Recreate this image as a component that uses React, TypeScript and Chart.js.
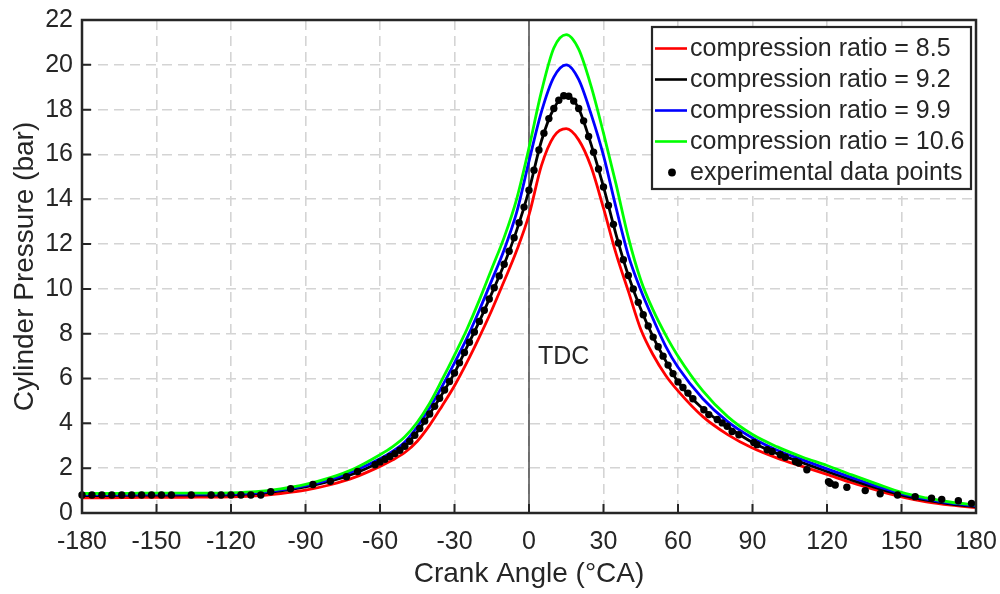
import { useEffect, useRef } from "react";
import { Chart, registerables } from "chart.js";

Chart.register(...registerables);

const FONT = '"Liberation Sans", Arial, Helvetica, sans-serif';
const TEXT = "#262626";

// crank angle grid for simulated curves
const angles = [
  -180, -170, -160, -150, -140, -130, -120, -110, -100, -90, -80, -70, -60, -55, -50,
  -45, -40, -35, -30, -25, -20, -15, -10, -5, 0, 5, 10, 15, 20, 25, 30, 35, 40, 45, 50, 55, 60,
  70, 80, 90, 100, 110, 120, 130, 140, 150, 160, 170, 180,
];

const cr85 = [
  0.68, 0.68, 0.69, 0.7, 0.7, 0.71, 0.72, 0.76, 0.87, 1.02, 1.26, 1.6, 2.08, 2.36, 2.7,
  3.2, 3.92, 4.78, 5.68, 6.72, 7.85, 9.05, 10.35, 11.7, 13.3, 15.5, 16.8, 17.15, 16.65, 15.45, 13.6, 11.6, 9.9, 8.2, 7.05, 6.15, 5.45,
  4.3, 3.5, 2.9, 2.45, 2.08, 1.72, 1.35, 1.02, 0.72, 0.5, 0.35, 0.24,
];

const cr92 = [
  0.78, 0.78, 0.79, 0.8, 0.8, 0.8, 0.81, 0.86, 0.99, 1.17, 1.42, 1.78, 2.28, 2.58, 2.98,
  3.62, 4.42, 5.3, 6.25, 7.4, 8.55, 9.8, 11.1, 12.6, 14.4, 16.6, 18.05, 18.65, 18.05, 16.45, 14.55, 12.45, 10.6, 9.1, 7.85, 6.8, 5.85,
  4.65, 3.85, 3.15, 2.65, 2.25, 1.85, 1.47, 1.12, 0.8, 0.57, 0.4, 0.28,
];

const cr99 = [
  0.82, 0.82, 0.83, 0.84, 0.84, 0.84, 0.85, 0.9, 1.03, 1.22, 1.5, 1.9, 2.42, 2.75, 3.17,
  3.85, 4.68, 5.65, 6.7, 7.8, 9.05, 10.38, 11.75, 13.4, 15.7, 17.9, 19.45, 20.0, 19.35, 17.8, 15.95, 13.65, 11.5, 9.95, 8.65, 7.45, 6.5,
  5.1, 4.08, 3.35, 2.8, 2.38, 1.97, 1.58, 1.2, 0.86, 0.62, 0.44, 0.32,
];

const cr106 = [
  0.87, 0.87, 0.88, 0.89, 0.89, 0.89, 0.9, 0.95, 1.08, 1.28, 1.58, 2.0, 2.6, 2.95, 3.4,
  4.05, 4.9, 5.95, 7.05, 8.2, 9.5, 10.9, 12.3, 14.0, 16.3, 18.8, 20.75, 21.35, 20.7, 19.05, 16.95, 14.7, 12.3, 10.4, 9.05, 7.95, 7.0,
  5.45, 4.3, 3.5, 2.95, 2.5, 2.12, 1.7, 1.3, 0.92, 0.67, 0.48, 0.36,
];

// experimental data points
const expAngles = [
  -180, -176, -172, -168, -164, -160, -156, -152, -148, -144, -136, -128, -124, -120, -116, -112, -108,
  -104, -96, -87, -80, -73.5, -69,
  -62, -60, -58, -56, -54, -52, -50, -48, -46, -44, -42, -40, -38, -36, -34, -32, -30, -28, -26, -24,
  -22, -20, -18, -16, -14, -12, -10, -8, -6, -4, -2, 0, 2, 4, 6, 8, 10, 12, 14, 16, 18, 20, 22, 24,
  26, 28, 30, 32, 34, 36, 38, 40, 42, 44, 46, 48, 50, 52, 54, 56, 58, 60, 62, 64, 66,
  70.4, 72.4, 75.8, 77.8, 79.8, 81.8, 84.5, 90.5, 91.8, 95.9, 97.9, 101.2, 103.2, 107.3, 108.6, 111.9,
  120.6, 121.3, 123.3, 128, 135.4, 141.4, 148.4, 155.5, 162.1, 166.2, 172.9, 178.2,
];
const expValues = [
  0.8, 0.8, 0.8, 0.8, 0.8, 0.8, 0.8, 0.8, 0.8, 0.8, 0.8, 0.8, 0.8, 0.8, 0.8, 0.8, 0.8,
  0.95, 1.08, 1.27, 1.42, 1.62, 1.85,
  2.15, 2.28, 2.4, 2.52, 2.65, 2.8, 2.98, 3.2, 3.47, 3.77, 4.1, 4.42, 4.76, 5.12, 5.49, 5.87, 6.25, 6.7, 7.16, 7.62,
  8.08, 8.55, 9.05, 9.55, 10.05, 10.58, 11.1, 11.68, 12.28, 12.95, 13.65, 14.4, 15.3, 16.2, 16.95, 17.6, 18.05, 18.42, 18.62, 18.6, 18.38, 18.05, 17.5, 16.8,
  16.1, 15.35, 14.55, 13.72, 12.88, 12.05, 11.3, 10.6, 10.0, 9.4, 8.85, 8.35, 7.85, 7.42, 7.0, 6.6, 6.22, 5.85, 5.6, 5.35, 5.1,
  4.61, 4.39, 4.17, 4.02, 3.87, 3.64, 3.49, 3.15, 3.05, 2.82, 2.75, 2.6, 2.49, 2.3, 2.23, 1.93,
  1.4, 1.33, 1.25, 1.15, 1.0, 0.86, 0.8, 0.73, 0.66, 0.61, 0.55, 0.43,
];

const xTicks = [-180, -150, -120, -90, -60, -30, 0, 30, 60, 90, 120, 150, 180];
const yTicks = [0, 2, 4, 6, 8, 10, 12, 14, 16, 18, 20, 22];

const seriesLabels = [
  "compression ratio = 8.5",
  "compression ratio = 9.2",
  "compression ratio = 9.9",
  "compression ratio = 10.6",
  "experimental data points",
];
const seriesColors = ["#ff0000", "#000000", "#0000ff", "#00ff00", "#000000"];

const toPoints = (xs: number[], ys: number[]) => xs.map((x, i) => ({ x, y: ys[i] }));

const decorPlugin = {
  id: "decor",
  beforeDatasetsDraw(chart: any) {
    const { ctx, chartArea, scales } = chart;
    const x0 = scales.x.getPixelForValue(0);
    ctx.save();
    ctx.strokeStyle = "#4a4a4a";
    ctx.lineWidth = 1.5;
    ctx.beginPath();
    ctx.moveTo(x0, chartArea.top);
    ctx.lineTo(x0, chartArea.bottom);
    ctx.stroke();
    ctx.fillStyle = TEXT;
    ctx.font = `25px ${FONT}`;
    ctx.textAlign = "left";
    ctx.textBaseline = "middle";
    ctx.fillText("TDC", x0 + 9, scales.y.getPixelForValue(6.96));
    ctx.restore();
  },
  afterDatasetsDraw(chart: any) {
    const { ctx, chartArea, scales } = chart;
    const { left, right, top, bottom } = chartArea;
    ctx.save();
    ctx.strokeStyle = TEXT;
    ctx.lineWidth = 2.5;
    ctx.beginPath();
    ctx.rect(left, top, right - left, bottom - top);
    ctx.stroke();
    ctx.lineWidth = 2;
    ctx.beginPath();
    xTicks.forEach((v) => {
      const px = scales.x.getPixelForValue(v);
      ctx.moveTo(px, bottom);
      ctx.lineTo(px, bottom - 9);
    });
    yTicks.forEach((v) => {
      const py = scales.y.getPixelForValue(v);
      ctx.moveTo(left, py);
      ctx.lineTo(left + 9, py);
    });
    ctx.stroke();
    ctx.restore();
  },
  afterDraw(chart: any) {
    const { ctx, chartArea } = chart;
    const boxRight = chartArea.right - 5;
    const boxTop = chartArea.top + 7;
    const boxW = 319;
    const boxH = 162;
    const boxLeft = boxRight - boxW;
    ctx.save();
    ctx.fillStyle = "#ffffff";
    ctx.fillRect(boxLeft, boxTop, boxW, boxH);
    ctx.strokeStyle = TEXT;
    ctx.lineWidth = 2.2;
    ctx.strokeRect(boxLeft, boxTop, boxW, boxH);
    ctx.font = `25px ${FONT}`;
    ctx.textAlign = "left";
    ctx.textBaseline = "middle";
    seriesLabels.forEach((lab, i) => {
      const cy = boxTop + 21.5 + i * 31;
      if (i < 4) {
        ctx.strokeStyle = seriesColors[i];
        ctx.lineWidth = 2.6;
        ctx.beginPath();
        ctx.moveTo(boxLeft + 3, cy);
        ctx.lineTo(boxLeft + 35, cy);
        ctx.stroke();
      } else {
        ctx.fillStyle = "#000";
        ctx.beginPath();
        ctx.arc(boxLeft + 20, cy, 3.9, 0, Math.PI * 2);
        ctx.fill();
      }
      ctx.fillStyle = TEXT;
      ctx.fillText(lab, boxLeft + 38, cy + 1);
    });
    ctx.restore();
  },
};

export default function App() {
  const ref = useRef<HTMLCanvasElement | null>(null);
  useEffect(() => {
    document.body.style.margin = "0";
    const canvas = ref.current;
    if (!canvas) return;
    const lineDs = (label: string, ys: number[], color: string, order: number) => ({
      label,
      data: toPoints(angles, ys),
      showLine: true,
      borderColor: color,
      backgroundColor: color,
      borderWidth: 2.8,
      pointRadius: 0,
      cubicInterpolationMode: "monotone" as const,
      fill: false,
      order,
    });
    const chart = new Chart(canvas, {
      type: "scatter",
      data: {
        datasets: [
          {
            label: seriesLabels[4],
            data: toPoints(expAngles, expValues),
            showLine: false,
            pointRadius: 3.7,
            pointBackgroundColor: "#000",
            pointBorderWidth: 0,
            pointBorderColor: "#000",
            order: 0,
            clip: false,
          } as any,
          lineDs(seriesLabels[3], cr106, seriesColors[3], 1),
          lineDs(seriesLabels[2], cr99, seriesColors[2], 2),
          lineDs(seriesLabels[1], cr92, seriesColors[1], 3),
          lineDs(seriesLabels[0], cr85, seriesColors[0], 4),
        ],
      },
      options: {
        animation: false,
        responsive: false,
        devicePixelRatio: 1,
        layout: { padding: { top: 20, right: 24, left: 0, bottom: 0 } },
        plugins: { legend: { display: false }, tooltip: { enabled: false } },
        scales: {
          x: {
            type: "linear",
            min: -180,
            max: 180,
            afterBuildTicks: (s: any) => {
              s.ticks = xTicks.map((v) => ({ value: v }));
            },
            afterFit: (s: any) => {
              s.height = 81;
              s.paddingLeft = 0;
              s.paddingRight = 0;
            },
            ticks: {
              font: { size: 25, family: FONT },
              color: TEXT,
              padding: 14,
              maxRotation: 0,
              autoSkip: false,
            },
            grid: { color: "#d4d4d4", lineWidth: 1.6, drawTicks: false },
            border: { display: false, dash: [10, 6] },
            title: {
              display: true,
              text: "Crank Angle (°CA)",
              font: { size: 28, family: FONT, lineHeight: 1 },
              color: TEXT,
              padding: { top: 0, bottom: 6 },
            },
          },
          y: {
            type: "linear",
            min: 0,
            max: 22,
            afterBuildTicks: (s: any) => {
              s.ticks = yTicks.map((v) => ({ value: v }));
            },
            afterFit: (s: any) => {
              s.width = 82;
              s.paddingTop = 0;
              s.paddingBottom = 0;
            },
            ticks: {
              font: { size: 25, family: FONT },
              color: TEXT,
              padding: 9,
              autoSkip: false,
            },
            grid: { color: "#d4d4d4", lineWidth: 1.6, drawTicks: false },
            border: { display: false, dash: [10, 6] },
            title: {
              display: true,
              text: "Cylinder Pressure (bar)",
              font: { size: 28, family: FONT, lineHeight: 1 },
              color: TEXT,
              padding: { top: 11, bottom: 0 },
            },
          },
        },
      },
      plugins: [decorPlugin],
    });
    return () => chart.destroy();
  }, []);
  return (
    <canvas
      ref={ref}
      width={1000}
      height={594}
      style={{ display: "block", width: 1000, height: 594 }}
    />
  );
}
